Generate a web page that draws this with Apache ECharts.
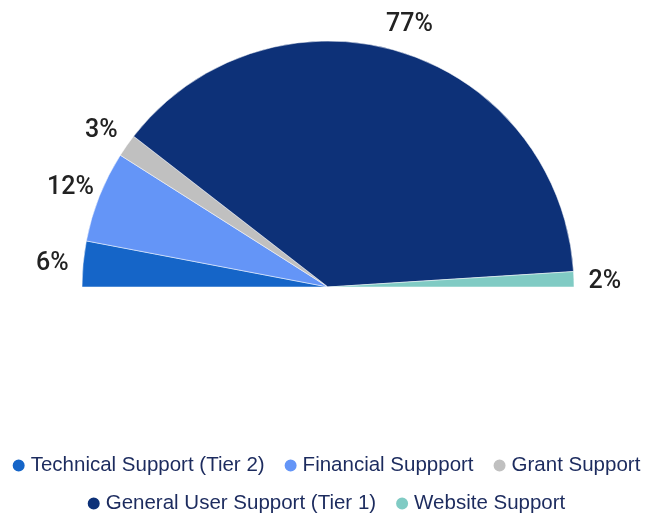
<!DOCTYPE html>
<html>
<head>
<meta charset="utf-8">
<script src="https://cdn.jsdelivr.net/npm/echarts@6/dist/echarts.min.js"></script>
<style>
  html, body { margin: 0; padding: 0; background: #fff; }
  #chart { width: 651px; height: 513px; }
</style>
</head>
<body>
<div id="chart"></div>
<script>
const categories = [
  'Technical Support (Tier 2)',
  'Financial Suppport',
  'Grant Support',
  'General User Support (Tier 1)',
  'Website Support'
]
const shares = [6, 12, 3, 77, 2]
const colors = ['#1565c8', '#6495f7', '#c0c0c0', '#0d3178', '#80cbc4']

const chart = echarts.init(document.getElementById('chart'))
const pieData = categories.map((name, i) => ({ name, value: shares[i] }))

// the legend wraps into two centred rows
const legendRow = (top, names) => ({
  top,
  left: 'center',
  icon: 'circle',
  itemWidth: 14,
  itemHeight: 14,
  itemGap: 18,
  textStyle: { fontFamily: 'Liberation Sans', fontSize: 20.5, color: '#1c2b5e' },
  data: names
})

chart.setOption({
  animation: false,
  color: colors,
  legend: [
    legendRow(450, categories.slice(0, 3)),
    legendRow(488, categories.slice(3))
  ],
  series: [{
    type: 'pie',
    center: [328, 287],
    radius: [0, 246],
    startAngle: 180,
    endAngle: 0,
    clockwise: true,
    itemStyle: { borderColor: '#fff', borderWidth: 0.5 },
    label: { show: false },
    labelLine: { show: false },
    data: pieData
  }, {
    // invisible ring that only carries the percentage labels
    type: 'pie',
    silent: true,
    center: [328, 290],
    radius: [266, 282],
    startAngle: 180,
    endAngle: 0,
    clockwise: true,
    itemStyle: { color: 'rgba(0,0,0,0)' },
    label: {
      show: true,
      position: 'inside',
      formatter: '{c}%',
      fontFamily: 'Roboto',
      fontWeight: 500,
      fontSize: 25,
      color: '#222'
    },
    labelLine: { show: false },
    data: pieData
  }]
})
</script>
</body>
</html>
